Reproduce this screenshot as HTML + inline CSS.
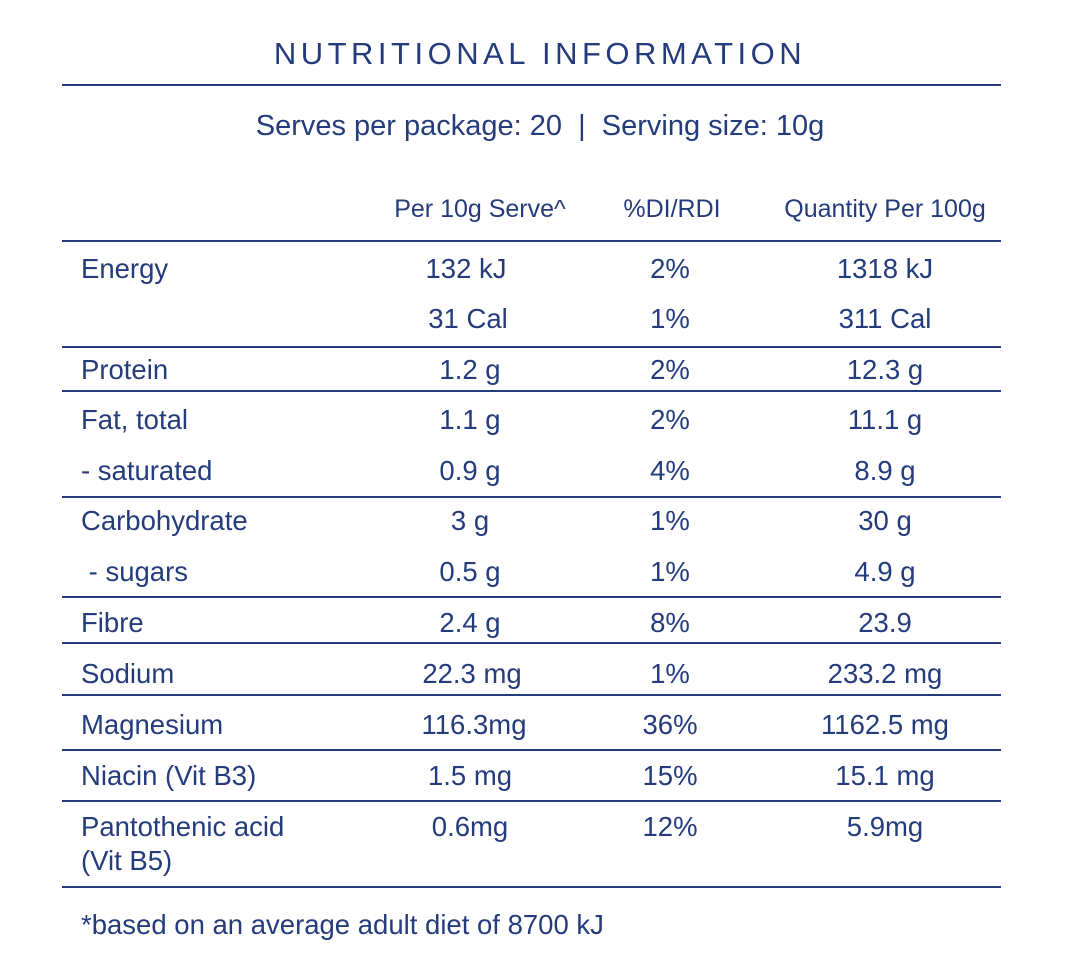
<!DOCTYPE html><html><head><style>
body{margin:0;width:1080px;height:973px;background:#fff;position:relative;font-family:"Liberation Sans",sans-serif;color:#243b7c;overflow:hidden}
.t{position:absolute;font-size:27.5px;line-height:32px;white-space:nowrap}
.c{transform:translateX(-50%)}
.l{position:absolute;left:62px;width:939px;height:2px;background:#243b7c}
</style></head><body>
<div class="t c" style="left:540px;top:38px;font-size:31px;letter-spacing:4.5px">NUTRITIONAL INFORMATION</div>
<div class="l" style="top:84px"></div>
<div class="t c" style="left:540px;top:110px;font-size:29px">Serves per package: 20 &nbsp;| &nbsp;Serving size: 10g</div>
<div class="t c" style="left:480px;top:193px;font-size:25px">Per 10g Serve^</div>
<div class="t c" style="left:672px;top:193px;font-size:25px">%DI/RDI</div>
<div class="t c" style="left:885px;top:193px;font-size:25px">Quantity Per 100g</div>
<div class="l" style="top:240px"></div>
<div class="l" style="top:346px"></div>
<div class="l" style="top:390px"></div>
<div class="l" style="top:496px"></div>
<div class="l" style="top:596px"></div>
<div class="l" style="top:642px"></div>
<div class="l" style="top:694px"></div>
<div class="l" style="top:749px"></div>
<div class="l" style="top:800px"></div>
<div class="l" style="top:886px"></div>

<div class="t" style="left:81px;top:253px">Energy</div><div class="t c" style="left:466px;top:253px">132 kJ</div><div class="t c" style="left:670px;top:253px">2%</div><div class="t c" style="left:885px;top:253px">1318 kJ</div>
<div class="t c" style="left:468px;top:303px">31 Cal</div><div class="t c" style="left:670px;top:303px">1%</div><div class="t c" style="left:885px;top:303px">311 Cal</div>
<div class="t" style="left:81px;top:354px">Protein</div><div class="t c" style="left:470px;top:354px">1.2 g</div><div class="t c" style="left:670px;top:354px">2%</div><div class="t c" style="left:885px;top:354px">12.3 g</div>
<div class="t" style="left:81px;top:404px">Fat, total</div><div class="t c" style="left:470px;top:404px">1.1 g</div><div class="t c" style="left:670px;top:404px">2%</div><div class="t c" style="left:885px;top:404px">11.1 g</div>
<div class="t" style="left:81px;top:455px">- saturated</div><div class="t c" style="left:470px;top:455px">0.9 g</div><div class="t c" style="left:670px;top:455px">4%</div><div class="t c" style="left:885px;top:455px">8.9 g</div>
<div class="t" style="left:81px;top:505px">Carbohydrate</div><div class="t c" style="left:470px;top:505px">3 g</div><div class="t c" style="left:670px;top:505px">1%</div><div class="t c" style="left:885px;top:505px">30 g</div>
<div class="t" style="left:81px;top:556px">&nbsp;- sugars</div><div class="t c" style="left:470px;top:556px">0.5 g</div><div class="t c" style="left:670px;top:556px">1%</div><div class="t c" style="left:885px;top:556px">4.9 g</div>
<div class="t" style="left:81px;top:607px">Fibre</div><div class="t c" style="left:470px;top:607px">2.4 g</div><div class="t c" style="left:670px;top:607px">8%</div><div class="t c" style="left:885px;top:607px">23.9</div>
<div class="t" style="left:81px;top:658px">Sodium</div><div class="t c" style="left:472px;top:658px">22.3 mg</div><div class="t c" style="left:670px;top:658px">1%</div><div class="t c" style="left:885px;top:658px">233.2 mg</div>
<div class="t" style="left:81px;top:709px">Magnesium</div><div class="t c" style="left:474px;top:709px">116.3mg</div><div class="t c" style="left:670px;top:709px">36%</div><div class="t c" style="left:885px;top:709px">1162.5 mg</div>
<div class="t" style="left:81px;top:760px">Niacin (Vit B3)</div><div class="t c" style="left:470px;top:760px">1.5 mg</div><div class="t c" style="left:670px;top:760px">15%</div><div class="t c" style="left:885px;top:760px">15.1 mg</div>
<div class="t" style="left:81px;top:811px">Pantothenic acid</div><div class="t c" style="left:470px;top:811px">0.6mg</div><div class="t c" style="left:670px;top:811px">12%</div><div class="t c" style="left:885px;top:811px">5.9mg</div>
<div class="t" style="left:81px;top:845px">(Vit B5)</div>
<div class="t" style="left:81px;top:909px">*based on an average adult diet of 8700 kJ</div>
</body></html>
